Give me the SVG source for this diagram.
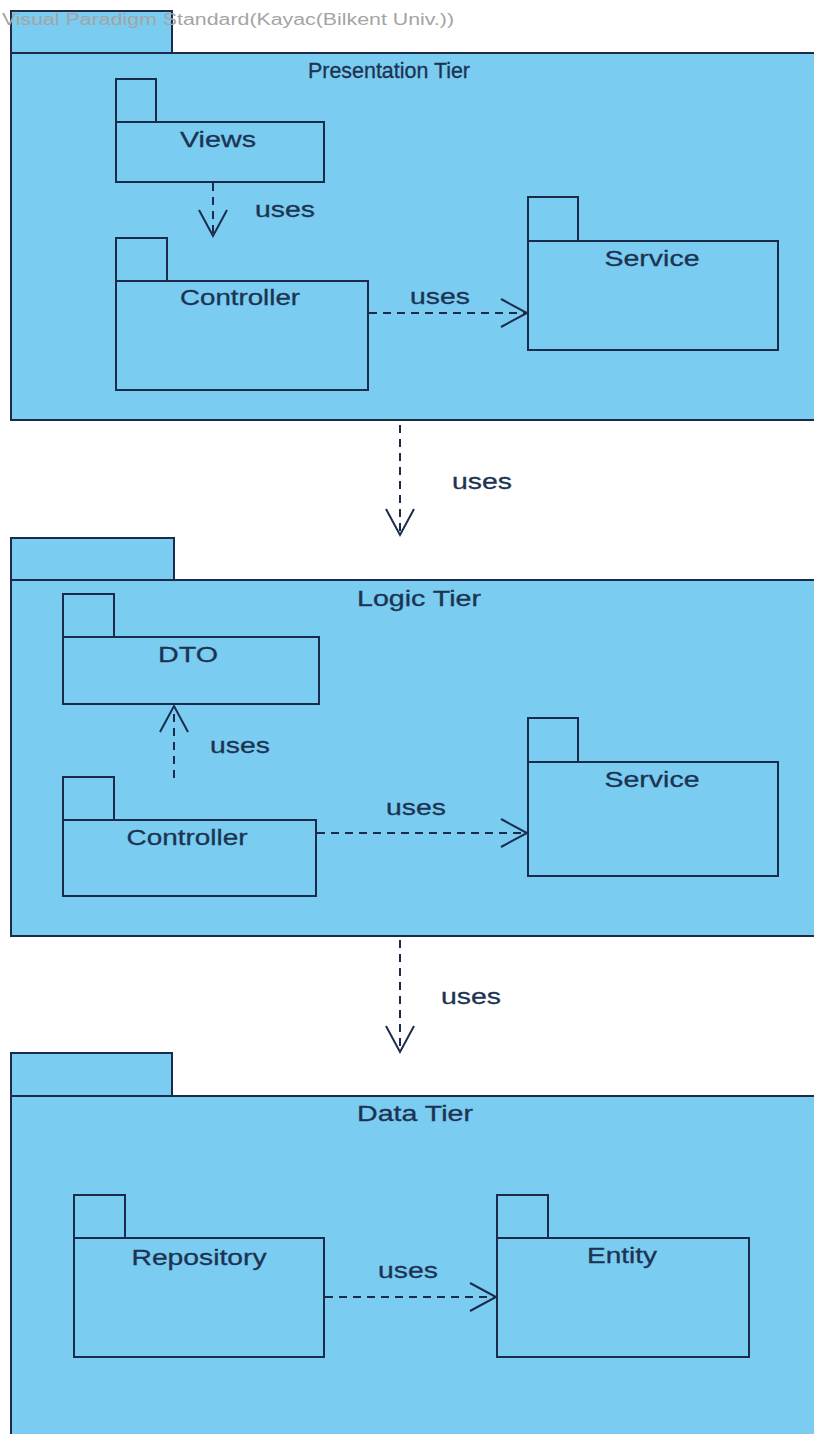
<svg xmlns="http://www.w3.org/2000/svg" width="814" height="1434" viewBox="0 0 814 1434">
  <defs>
    <style>
      .pkg { fill: #7accf0; stroke: #1b2b4b; stroke-width: 2; }
      .lbl { font-family: "Liberation Sans", Arial, sans-serif; font-size: 22px; fill: #1c3352; stroke: #1c3352; stroke-width: 0.3; text-anchor: middle; }
      .dep { fill: none; stroke: #1b2b4b; stroke-width: 2; stroke-dasharray: 8 6; marker-end: url(#open); }
      .mark { font-family: "Liberation Sans", Arial, sans-serif; font-size: 16px; fill: #a4a4a4; }
    </style>
    <!-- open V arrowhead for dependency arrows -->
    <marker id="open" markerUnits="userSpaceOnUse" markerWidth="32" markerHeight="32" refX="27" refY="15" orient="auto">
      <path d="M1,1 L27,15 L1,29" fill="none" stroke="#1b2b4b" stroke-width="2"/>
    </marker>
  </defs>

  <rect width="814" height="1434" fill="#ffffff"/>

  <!-- Presentation Tier -->
  <g id="presentation-tier">
    <rect class="pkg" x="11" y="11" width="161" height="42"/>
    <rect class="pkg" x="11" y="53" width="830" height="367"/>
    <text class="lbl" x="389" y="78" textLength="162" lengthAdjust="spacingAndGlyphs">Presentation Tier</text>
  </g>
  <g id="p-views">
    <rect class="pkg" x="116" y="79" width="40" height="43"/>
    <rect class="pkg" x="116" y="122" width="208" height="60"/>
    <text class="lbl" x="218" y="147" textLength="76" lengthAdjust="spacingAndGlyphs">Views</text>
  </g>
  <g id="p-controller">
    <rect class="pkg" x="116" y="238" width="51" height="43"/>
    <rect class="pkg" x="116" y="281" width="252" height="109"/>
    <text class="lbl" x="240" y="305" textLength="120" lengthAdjust="spacingAndGlyphs">Controller</text>
  </g>
  <g id="p-service">
    <rect class="pkg" x="528" y="197" width="50" height="44"/>
    <rect class="pkg" x="528" y="241" width="250" height="109"/>
    <text class="lbl" x="652" y="266" textLength="95" lengthAdjust="spacingAndGlyphs">Service</text>
  </g>

  <!-- Logic Tier -->
  <g id="logic-tier">
    <rect class="pkg" x="11" y="538" width="163" height="42"/>
    <rect class="pkg" x="11" y="580" width="830" height="356"/>
    <text class="lbl" x="419" y="606" textLength="124" lengthAdjust="spacingAndGlyphs">Logic Tier</text>
  </g>
  <g id="l-dto">
    <rect class="pkg" x="63" y="594" width="51" height="43"/>
    <rect class="pkg" x="63" y="637" width="256" height="67"/>
    <text class="lbl" x="188" y="662" textLength="60" lengthAdjust="spacingAndGlyphs">DTO</text>
  </g>
  <g id="l-controller">
    <rect class="pkg" x="63" y="777" width="51" height="43"/>
    <rect class="pkg" x="63" y="820" width="253" height="76"/>
    <text class="lbl" x="187" y="845" textLength="121" lengthAdjust="spacingAndGlyphs">Controller</text>
  </g>
  <g id="l-service">
    <rect class="pkg" x="528" y="718" width="50" height="44"/>
    <rect class="pkg" x="528" y="762" width="250" height="114"/>
    <text class="lbl" x="652" y="787" textLength="95" lengthAdjust="spacingAndGlyphs">Service</text>
  </g>

  <!-- Data Tier -->
  <g id="data-tier">
    <rect class="pkg" x="11" y="1053" width="161" height="43"/>
    <rect class="pkg" x="11" y="1096" width="830" height="360"/>
    <text class="lbl" x="415" y="1121" textLength="116" lengthAdjust="spacingAndGlyphs">Data Tier</text>
  </g>
  <g id="d-repository">
    <rect class="pkg" x="74" y="1195" width="51" height="43"/>
    <rect class="pkg" x="74" y="1238" width="250" height="119"/>
    <text class="lbl" x="199" y="1265" textLength="135" lengthAdjust="spacingAndGlyphs">Repository</text>
  </g>
  <g id="d-entity">
    <rect class="pkg" x="497" y="1195" width="51" height="43"/>
    <rect class="pkg" x="497" y="1238" width="252" height="119"/>
    <text class="lbl" x="622" y="1263" textLength="70" lengthAdjust="spacingAndGlyphs">Entity</text>
  </g>

  <!-- dependency connectors -->
  <g id="connectors">
    <path class="dep" d="M213,183 L213,236"/>
    <text class="lbl" x="285" y="217" textLength="60" lengthAdjust="spacingAndGlyphs">uses</text>
    <path class="dep" d="M369,313 L527,313"/>
    <text class="lbl" x="440" y="304" textLength="60" lengthAdjust="spacingAndGlyphs">uses</text>
    <path class="dep" d="M400,425 L400,535"/>
    <text class="lbl" x="482" y="489" textLength="60" lengthAdjust="spacingAndGlyphs">uses</text>
    <path class="dep" d="M174,778 L174,706"/>
    <text class="lbl" x="240" y="753" textLength="60" lengthAdjust="spacingAndGlyphs">uses</text>
    <path class="dep" d="M317,833 L527,833"/>
    <text class="lbl" x="416" y="815" textLength="60" lengthAdjust="spacingAndGlyphs">uses</text>
    <path class="dep" d="M400,940 L400,1052"/>
    <text class="lbl" x="471" y="1004" textLength="60" lengthAdjust="spacingAndGlyphs">uses</text>
    <path class="dep" d="M325,1297 L496,1297"/>
    <text class="lbl" x="408" y="1278" textLength="60" lengthAdjust="spacingAndGlyphs">uses</text>
  </g>

  <!-- editor watermark -->
  <text class="mark" x="2" y="25" textLength="452" lengthAdjust="spacingAndGlyphs">Visual Paradigm Standard(Kayac(Bilkent Univ.))</text>
</svg>
